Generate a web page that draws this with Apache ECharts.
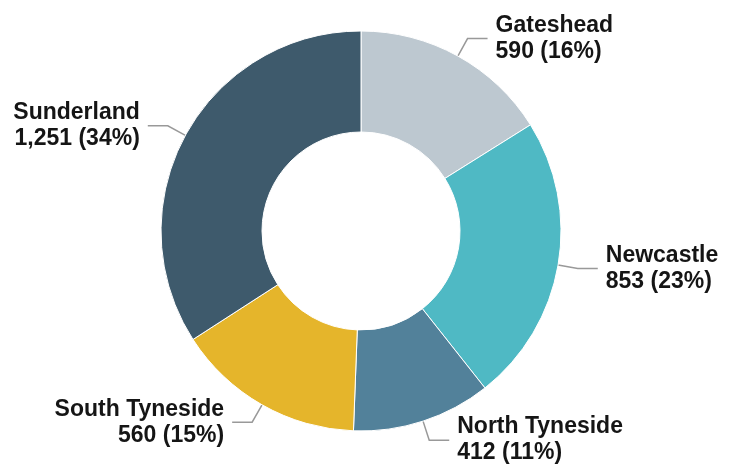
<!DOCTYPE html>
<html>
<head>
<meta charset="utf-8">
<script src="https://cdn.jsdelivr.net/npm/echarts@6/dist/echarts.min.js"></script>
<style>
  html, body { margin: 0; padding: 0; background: #fff; }
  #chart { width: 734px; height: 473px; }
</style>
</head>
<body>
<div id="chart"></div>
<script>
const areas = ['Gateshead', 'Newcastle', 'North Tyneside', 'South Tyneside', 'Sunderland'];
const counts = [590, 853, 412, 560, 1251];
const colors = ['#bdc8d0', '#4fb9c4', '#52819a', '#e5b52b', '#3e5a6c'];

const chart = echarts.init(document.getElementById('chart'));

const option = {
  animation: false,
  series: [
    {
      type: 'pie',
      center: [361, 231],
      radius: [99, 200],
      startAngle: 90,
      clockwise: true,
      avoidLabelOverlap: false,
      itemStyle: { borderColor: '#fff', borderWidth: 1 },
      label: {
        show: true,
        color: '#151515',
        fontFamily: 'Liberation Sans, Arial, sans-serif',
        fontSize: 23,
        fontWeight: 'bold',
        lineHeight: 26,
        distanceToLabelLine: 8,
        formatter: (p) => p.name + '\n' + p.value.toLocaleString('en-GB') + ' (' + Math.round(p.percent) + '%)'
      },
      labelLine: {
        show: true,
        length: 20,
        length2: 20,
        lineStyle: { color: '#999', width: 1.5 }
      },
      data: areas.map((name, i) => ({
        name: name,
        value: counts[i],
        itemStyle: { color: colors[i] }
      }))
    }
  ]
};

chart.setOption(option);
</script>
</body>
</html>
